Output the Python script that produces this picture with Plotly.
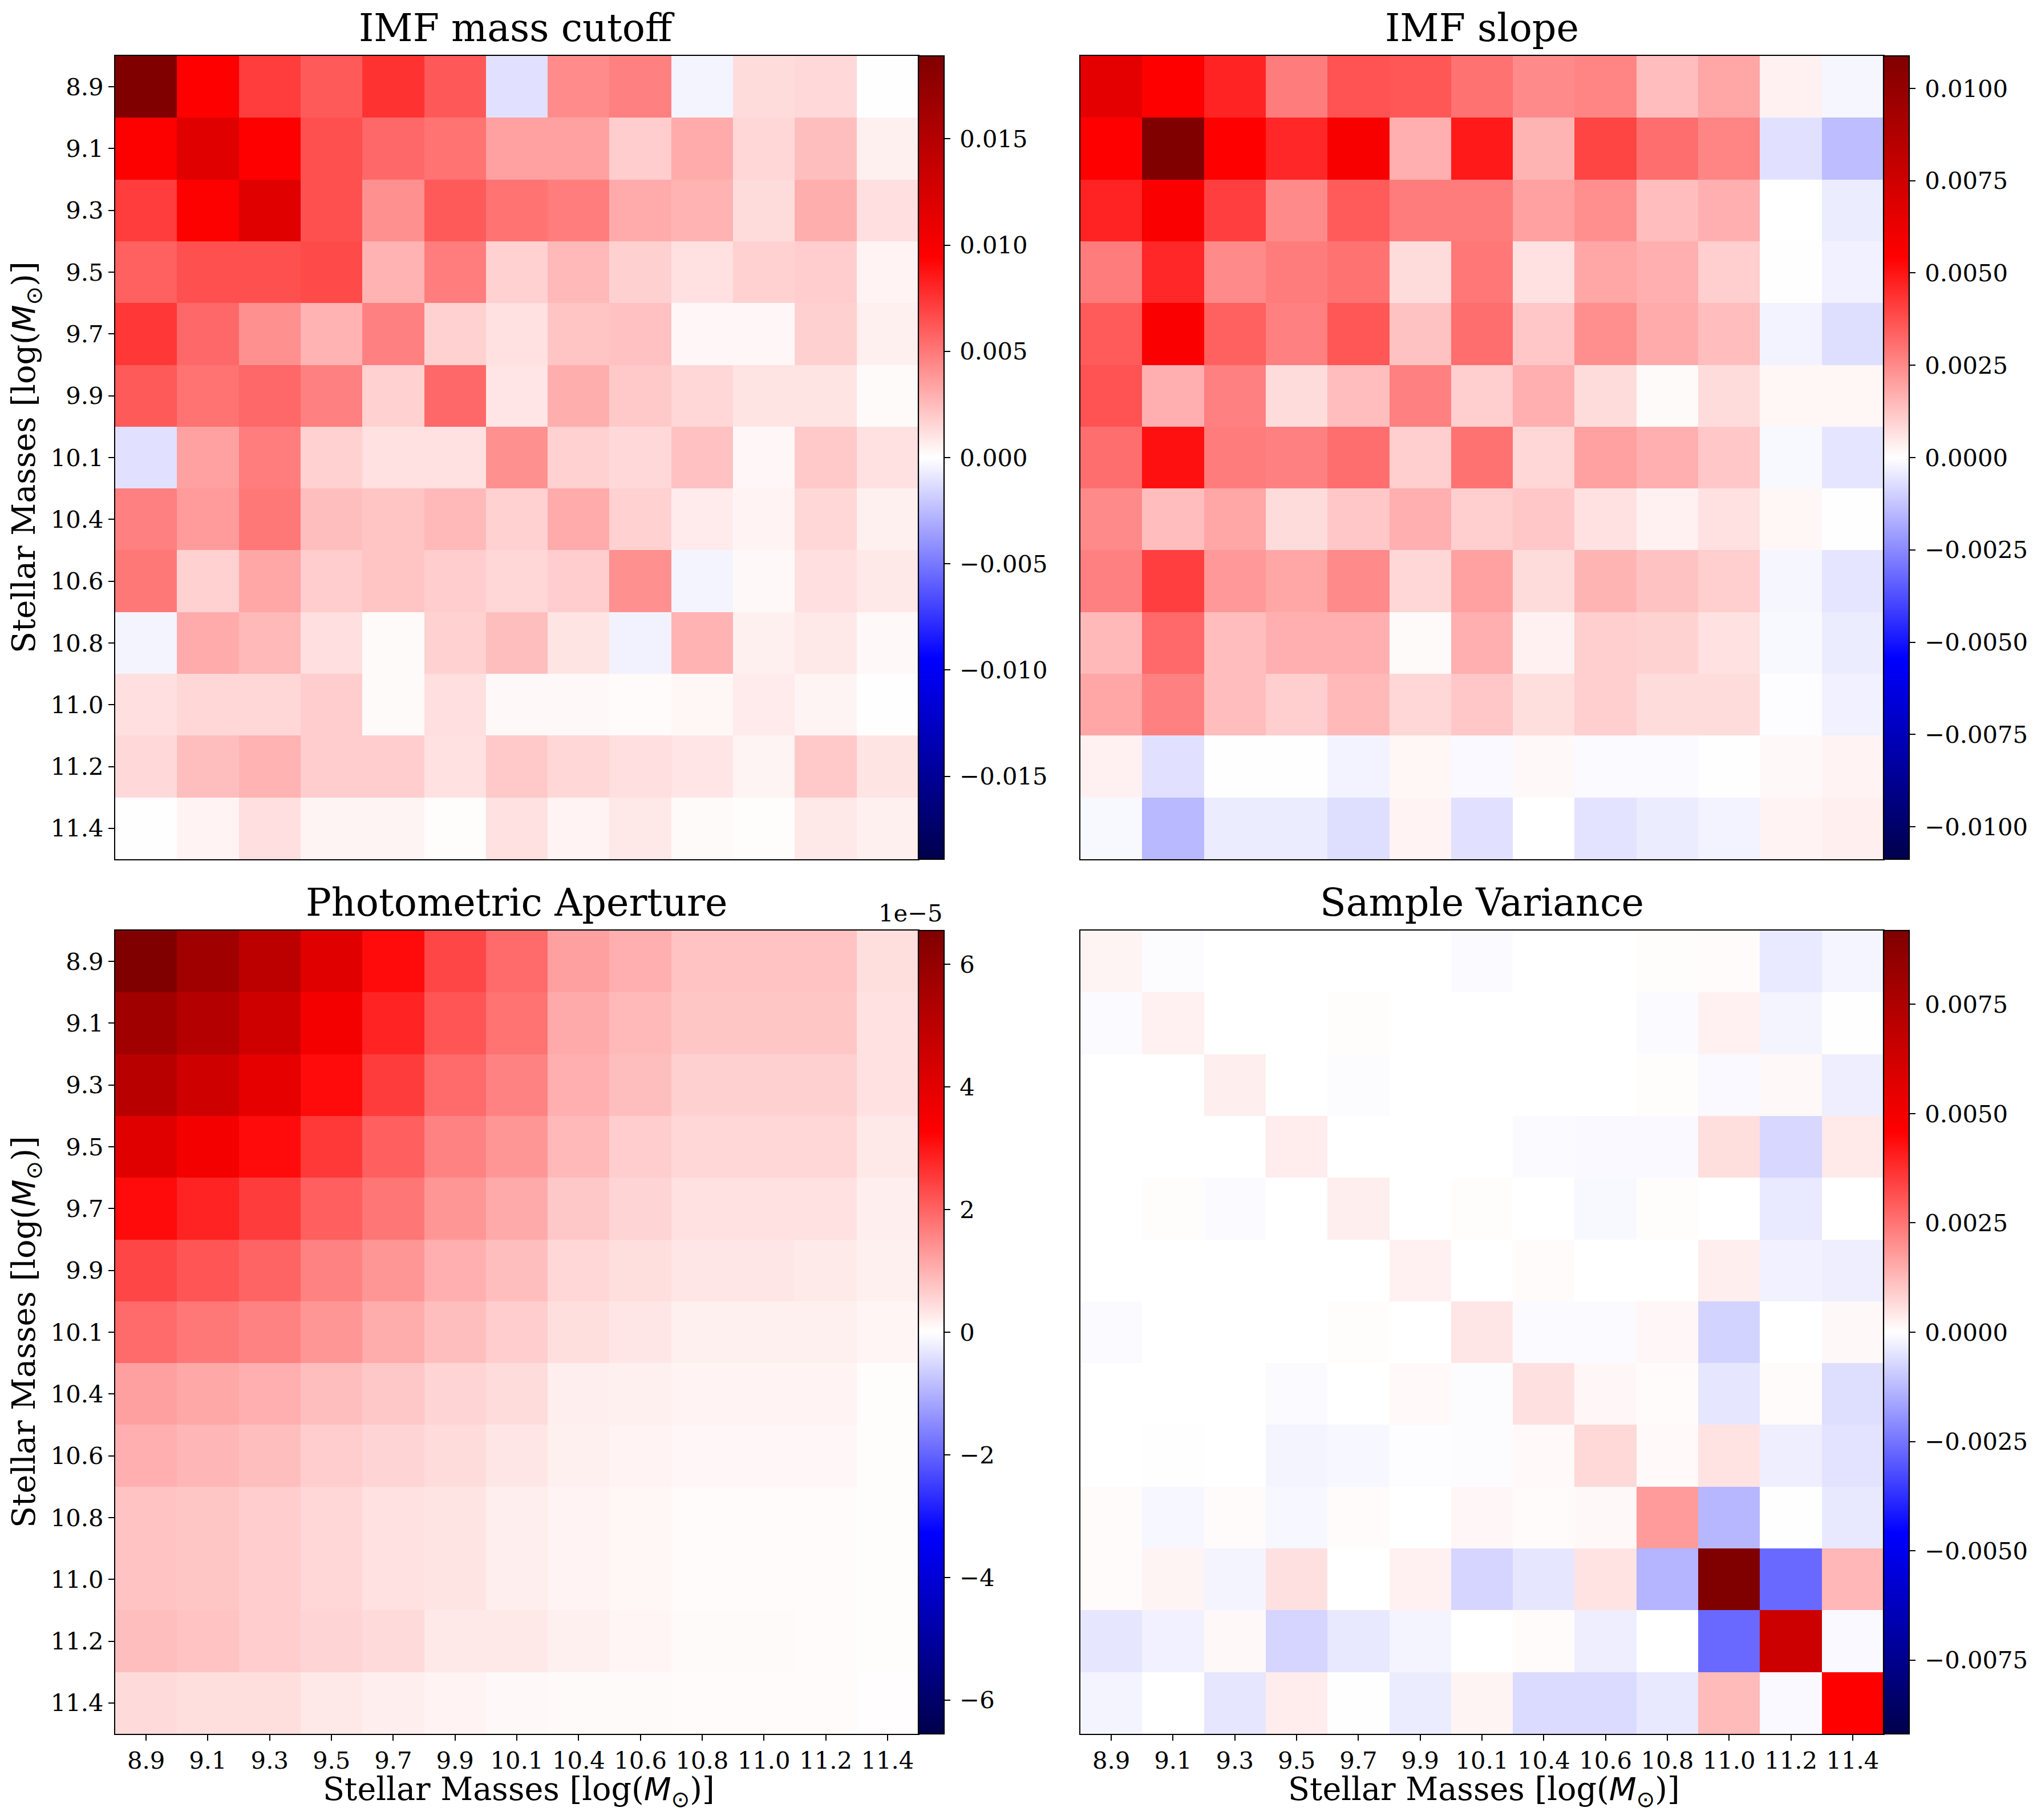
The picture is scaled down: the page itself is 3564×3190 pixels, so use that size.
import plotly.graph_objects as go

PAGE_W, PAGE_H = 3564, 3190
BODY = 8  # default browser margin around the plot
W, H = PAGE_W - BODY, PAGE_H - BODY
masses = ["8.9", "9.1", "9.3", "9.5", "9.7", "9.9", "10.1", "10.4", "10.6", "10.8", "11.0", "11.2", "11.4"]

# values in units of 1e-3
imf_cutoff = [
    [18.9, 9.5, 7.2, 6.1, 7.6, 6.2, -1.1, 4.3, 4.7, -0.4, 1.3, 1.4, 0.05],
    [9.6, 11.7, 9.5, 6.5, 5.6, 5.2, 3.5, 3.5, 1.85, 3.1, 1.5, 2.4, 0.55],
    [7.2, 9.6, 11.7, 6.5, 4.1, 6.1, 5.2, 4.8, 3.1, 2.8, 1.3, 3.0, 1.2],
    [5.9, 6.5, 6.5, 6.7, 2.8, 4.8, 1.7, 2.6, 1.75, 1.1, 1.7, 1.85, 0.45],
    [7.4, 5.6, 4.1, 2.8, 4.7, 1.7, 1.1, 2.2, 2.3, 0.3, 0.3, 1.75, 0.55],
    [6.1, 5.2, 5.6, 4.7, 1.7, 5.6, 0.95, 3.0, 2.0, 1.5, 1.0, 1.0, 0.2],
    [-1.1, 3.5, 4.8, 1.7, 1.1, 1.1, 4.1, 1.7, 1.4, 2.3, 0.3, 2.0, 1.1],
    [4.7, 3.7, 5.0, 2.4, 2.2, 2.6, 1.7, 3.1, 1.7, 0.75, 0.45, 1.5, 0.55],
    [5.0, 1.7, 3.3, 1.85, 2.2, 1.85, 1.5, 1.85, 4.1, -0.4, 0.25, 1.2, 0.85],
    [-0.4, 3.1, 2.6, 1.2, 0.2, 1.7, 2.4, 1.0, -0.5, 2.8, 0.55, 0.85, 0.25],
    [1.2, 1.5, 1.5, 1.85, 0.2, 1.2, 0.25, 0.25, 0.15, 0.35, 0.75, 0.4, 0.05],
    [1.4, 2.4, 2.8, 1.85, 1.85, 1.1, 2.0, 1.5, 1.2, 0.95, 0.4, 2.0, 1.0],
    [-0.05, 0.45, 1.2, 0.4, 0.4, 0.1, 1.1, 0.45, 0.85, 0.2, 0.1, 0.85, 0.55],
]
imf_slope = [
    [6.6, 5.5, 4.7, 2.8, 3.7, 3.6, 3.0, 2.5, 2.6, 1.4, 1.9, 0.3, -0.2],
    [5.5, 10.88, 5.5, 4.6, 5.7, 1.7, 4.9, 1.6, 4.0, 3.1, 2.6, -0.65, -1.4],
    [4.7, 5.6, 4.1, 2.5, 3.5, 2.8, 2.8, 2.0, 2.4, 1.4, 1.7, 0.0, -0.4],
    [2.8, 4.6, 2.5, 2.8, 3.0, 0.75, 2.9, 0.65, 1.9, 1.7, 1.05, 0.03, -0.3],
    [3.5, 5.6, 3.4, 2.7, 3.6, 1.3, 3.1, 1.2, 2.4, 1.8, 1.4, -0.25, -0.7],
    [3.7, 1.7, 2.7, 0.75, 1.4, 2.7, 1.05, 1.7, 0.75, 0.1, 0.75, 0.2, 0.2],
    [3.1, 5.1, 2.8, 2.7, 3.1, 1.05, 3.0, 0.85, 2.0, 1.7, 1.2, -0.15, -0.55],
    [2.5, 1.4, 1.9, 0.75, 1.2, 1.7, 1.05, 1.2, 0.65, 0.3, 0.65, 0.2, 0.02],
    [2.7, 4.1, 2.2, 1.9, 2.5, 0.85, 2.0, 0.75, 1.6, 1.3, 1.05, -0.2, -0.55],
    [1.5, 3.2, 1.4, 1.7, 1.7, 0.1, 1.7, 0.3, 1.05, 0.95, 0.65, -0.15, -0.4],
    [1.9, 2.7, 1.4, 1.05, 1.5, 0.85, 1.2, 0.7, 1.05, 0.75, 0.75, -0.05, -0.3],
    [0.3, -0.65, -0.03, -0.03, -0.25, 0.2, -0.12, 0.15, -0.1, -0.1, -0.03, 0.15, 0.25],
    [-0.15, -1.5, -0.4, -0.4, -0.7, 0.25, -0.65, 0.0, -0.6, -0.4, -0.25, 0.25, 0.35],
]
# values in units of 1e-5
aperture = [
    [6.55, 5.7, 4.99, 4.04, 3.14, 2.37, 1.92, 1.22, 1.03, 0.77, 0.77, 0.77, 0.42],
    [5.7, 5.2, 4.55, 3.53, 2.82, 2.18, 1.8, 1.09, 0.9, 0.73, 0.73, 0.73, 0.38],
    [5.08, 4.55, 3.91, 3.14, 2.5, 1.92, 1.6, 1.03, 0.83, 0.6, 0.6, 0.6, 0.38],
    [4.04, 3.53, 3.14, 2.56, 2.05, 1.6, 1.35, 0.9, 0.64, 0.51, 0.51, 0.51, 0.29],
    [3.14, 2.82, 2.5, 2.05, 1.76, 1.35, 1.09, 0.7, 0.55, 0.38, 0.38, 0.38, 0.22],
    [2.37, 2.18, 1.99, 1.6, 1.35, 1.03, 0.83, 0.51, 0.42, 0.32, 0.32, 0.27, 0.19],
    [1.92, 1.73, 1.6, 1.35, 1.06, 0.83, 0.64, 0.42, 0.32, 0.19, 0.19, 0.19, 0.13],
    [1.22, 1.12, 1.03, 0.83, 0.7, 0.55, 0.45, 0.22, 0.19, 0.15, 0.15, 0.15, 0.04],
    [1.03, 0.94, 0.83, 0.64, 0.55, 0.45, 0.32, 0.19, 0.15, 0.1, 0.1, 0.1, 0.04],
    [0.77, 0.73, 0.64, 0.51, 0.38, 0.35, 0.22, 0.15, 0.12, 0.05, 0.05, 0.05, 0.04],
    [0.77, 0.73, 0.64, 0.51, 0.38, 0.35, 0.22, 0.15, 0.12, 0.05, 0.05, 0.05, 0.04],
    [0.83, 0.77, 0.64, 0.55, 0.47, 0.3, 0.3, 0.19, 0.13, 0.06, 0.06, 0.05, 0.04],
    [0.47, 0.42, 0.42, 0.3, 0.22, 0.15, 0.09, 0.06, 0.06, 0.05, 0.05, 0.05, 0.02],
]
# values in units of 1e-3
sample_var = [
    [0.2, -0.05, 0, 0, 0, 0, -0.08, 0, 0, 0.06, 0.08, -0.4, -0.18],
    [-0.08, 0.25, 0, 0, 0.06, 0, 0, 0, 0, -0.07, 0.25, -0.2, 0.02],
    [0, 0, 0.3, 0, -0.05, 0, 0, 0, 0, 0.05, -0.1, 0.12, -0.3],
    [0, 0, 0, 0.35, 0, 0, 0, -0.07, -0.1, -0.1, 0.6, -0.72, 0.4],
    [0, 0.05, -0.07, 0, 0.3, 0, 0.05, 0, -0.12, 0.05, 0, -0.4, 0],
    [0, 0, 0, 0, 0, 0.25, 0, 0.08, 0, 0, 0.3, -0.25, -0.3],
    [-0.08, 0, 0, 0, 0.05, 0, 0.45, -0.08, -0.08, 0.15, -0.8, 0, 0.12],
    [0, 0, 0, -0.07, 0, 0.1, -0.05, 0.55, 0.15, 0.08, -0.45, 0.08, -0.6],
    [0, -0.02, 0, -0.2, -0.15, -0.03, -0.05, 0.1, 0.7, 0.1, 0.5, -0.3, -0.5],
    [0.08, -0.15, 0.08, -0.15, 0.08, 0, 0.15, 0.08, 0.12, 1.8, -1.3, 0.02, -0.42],
    [0.08, 0.2, -0.2, 0.55, 0, 0.25, -0.75, -0.45, 0.5, -1.35, 9.19, -2.7, 1.3],
    [-0.45, -0.25, 0.12, -0.75, -0.42, -0.2, 0, 0.08, -0.3, 0, -2.7, 6.4, -0.1],
    [-0.2, 0, -0.45, 0.35, -0.02, -0.35, 0.2, -0.65, -0.65, -0.42, 1.25, -0.1, 4.6],
]

titles = ["IMF mass cutoff", "IMF slope", "Photometric Aperture", "Sample Variance"]
panels = [imf_cutoff, imf_slope, aperture, sample_var]
vmaxes = [18.9, 10.88, 6.55, 9.19]
scales = [1e-3, 1e-3, 1e-5, 1e-3]
cb_ticks = [
    [-0.015, -0.010, -0.005, 0, 0.005, 0.010, 0.015],
    [-0.010, -0.0075, -0.005, -0.0025, 0, 0.0025, 0.005, 0.0075, 0.010],
    [-6e-5, -4e-5, -2e-5, 0, 2e-5, 4e-5, 6e-5],
    [-0.0075, -0.005, -0.0025, 0, 0.0025, 0.005, 0.0075],
]
cb_labels = [
    ["\u22120.015", "\u22120.010", "\u22120.005", "0.000", "0.005", "0.010", "0.015"],
    ["\u22120.0100", "\u22120.0075", "\u22120.0050", "\u22120.0025", "0.0000", "0.0025", "0.0050", "0.0075", "0.0100"],
    ["\u22126", "\u22124", "\u22122", "0", "2", "4", "6"],
    ["\u22120.0075", "\u22120.0050", "\u22120.0025", "0.0000", "0.0025", "0.0050", "0.0075"],
]
seismic = [[0, "rgb(0,0,76)"], [0.25, "rgb(0,0,255)"], [0.5, "rgb(255,255,255)"],
           [0.75, "rgb(255,0,0)"], [1, "rgb(128,0,0)"]]

FONT = "DejaVu Serif"
TICK, LABEL, TITLE = 41.7, 55.6, 66.7
LEFT = [202 - BODY, 1894 - BODY]
TOP = [98 - BODY, 1631 - BODY]
SIZE = 1408
CB_W = 45
AXIS_LABEL = 'Stellar Masses [log(<span style="font-family:DejaVu Sans"><i>M</i><sub>⊙</sub></span>)]'
XLABEL_Y = 3131   # centre of the horizontal axis label, in figure pixels
YLABEL_X = 37     # centre of the vertical axis label, in figure pixels

fig = go.Figure()
annotations = []
label_font = dict(family=FONT, size=LABEL, color="black")
for i, (vals, vmax, sc) in enumerate(zip(panels, vmaxes, scales)):
    row, col = i // 2, i % 2
    n = i + 1
    x0, y0 = LEFT[col], TOP[row]
    xa, ya = ("x", "y") if n == 1 else (f"x{n}", f"y{n}")
    xdom = [x0 / W, (x0 + SIZE) / W]
    ydom = [1 - (y0 + SIZE) / H, 1 - y0 / H]
    z = [[v * sc for v in r] for r in vals]
    fig.add_trace(go.Heatmap(
        z=z, x=masses, y=masses, xaxis=xa, yaxis=ya,
        colorscale=seismic, zmin=-vmax * sc, zmax=vmax * sc, zsmooth=False, xgap=0, ygap=0,
        colorbar=dict(
            x=(x0 + SIZE) / W, xanchor="left", xpad=0, ypad=0,
            y=ydom[0], yanchor="bottom", len=SIZE / H, lenmode="fraction",
            thickness=CB_W, thicknessmode="pixels",
            outlinecolor="black", outlinewidth=2.2,
            tickmode="array", tickvals=cb_ticks[i], ticktext=["\u2009" + t for t in cb_labels[i]],
            ticks="outside", ticklen=10, tickwidth=2.2, tickcolor="black",
            tickfont=dict(family=FONT, size=TICK, color="black"),
        ),
    ))
    bottom, left = row == 1, col == 0
    fig.update_layout({
        ("xaxis" if n == 1 else f"xaxis{n}"): dict(
            domain=xdom, anchor=ya, type="category", constrain="domain",
            range=[-0.5, 12.5], showgrid=False, zeroline=False,
            showline=True, mirror=True, linecolor="black", linewidth=2.2,
            ticks="outside" if bottom else "", ticklen=10, tickwidth=2.2, tickcolor="black",
            showticklabels=bottom, tickangle=0, tickmode="array", tickvals=masses, ticktext=masses,
            ticklabelstandoff=-1,
            tickfont=dict(family=FONT, size=TICK, color="black"),
        ),
        ("yaxis" if n == 1 else f"yaxis{n}"): dict(
            domain=ydom, anchor=xa, type="category",
            range=[12.5, -0.5], showgrid=False, zeroline=False,
            showline=True, mirror=True, linecolor="black", linewidth=2.2,
            ticks="outside" if left else "", ticklen=10, tickwidth=2.2, tickcolor="black",
            showticklabels=left, tickmode="array", tickvals=masses, ticktext=masses,
            tickfont=dict(family=FONT, size=TICK, color="black"),
        ),
    })
    annotations.append(dict(
        text=titles[i], xref="paper", yref="paper", showarrow=False,
        x=(x0 + SIZE / 2) / W, y=1 - (y0 - 8) / H, xanchor="center", yanchor="bottom",
        font=dict(family=FONT, size=TITLE, color="black"),
    ))
    if bottom:
        annotations.append(dict(
            text=AXIS_LABEL, xref="paper", yref="paper", showarrow=False,
            x=(x0 + SIZE / 2 + 3) / W, y=1 - XLABEL_Y / H, xanchor="center", yanchor="middle",
            font=label_font,
        ))
    if left:
        annotations.append(dict(
            text=AXIS_LABEL, xref="paper", yref="paper", showarrow=False, textangle=-90,
            x=YLABEL_X / W, y=1 - (y0 + SIZE / 2) / H, xanchor="center", yanchor="middle",
            font=label_font,
        ))

annotations.append(dict(
    text="1e\u22125", xref="paper", yref="paper", showarrow=False,
    x=(LEFT[0] + SIZE + CB_W) / W, y=1 - (TOP[1] - 4) / H, xanchor="right", yanchor="bottom",
    font=dict(family=FONT, size=TICK, color="black"),
))

fig.update_layout(
    width=W, height=H, autosize=False, showlegend=False,
    margin=dict(l=0, r=0, t=0, b=0, autoexpand=False),
    paper_bgcolor="white", plot_bgcolor="white",
    font=dict(family=FONT, color="black"),
    annotations=annotations,
)
fig.write_html("out.html")
